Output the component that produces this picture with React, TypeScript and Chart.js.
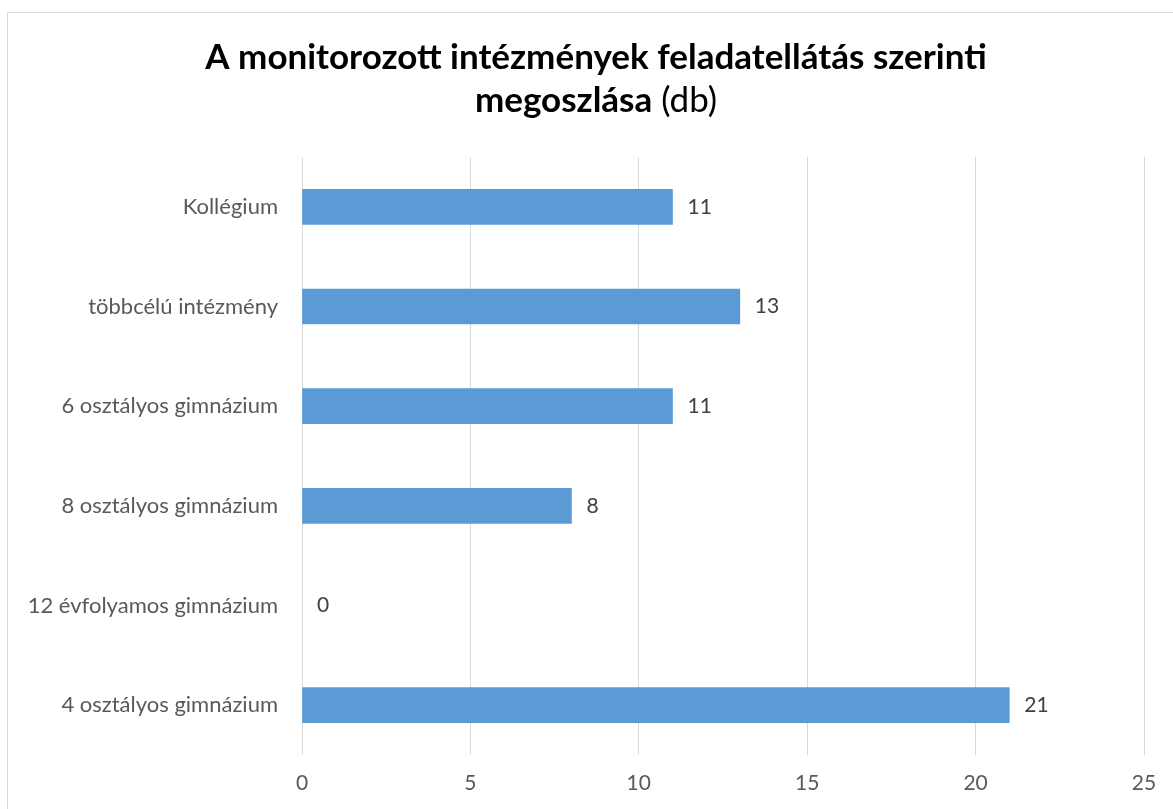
import React, { useEffect, useRef } from "react";
import { Chart, registerables } from "chart.js";

Chart.register(...registerables);

const categories = [
  "Kollégium",
  "többcélú intézmény",
  "6 osztályos gimnázium",
  "8 osztályos gimnázium",
  "12 évfolyamos gimnázium",
  "4 osztályos gimnázium",
];
const values = [11, 13, 11, 8, 0, 21];
const xMin = 0;
const xMax = 25;
const xStep = 5;
const titleLine1 = "A monitorozott intézmények feladatellátás szerinti";
const titleLine2Bold = "megoszlása";
const titleLine2Normal = " (db)";

const FONT = "Lato, 'Open Sans', sans-serif";
const BAR_COLOR = "#5B9BD5";

export default function App() {
  const ref = useRef<HTMLCanvasElement>(null);
  useEffect(() => {
    document.body.style.margin = "0";
    document.body.style.overflow = "hidden";
    const canvas = ref.current!;
    const borderPlugin = {
      id: "border",
      beforeDraw(chart: any) {
        const ctx = chart.ctx;
        ctx.save();
        ctx.fillStyle = "#ffffff";
        ctx.fillRect(0, 0, chart.width, chart.height);
        ctx.strokeStyle = "#d9d9d9";
        ctx.lineWidth = 1;
        ctx.strokeRect(7.5, 12.5, 1400, 1000);
        ctx.restore();
      },
    };
    const titlePlugin = {
      id: "mixedTitle",
      afterDraw(chart: any) {
        const ctx = chart.ctx;
        ctx.save();
        ctx.fillStyle = "#000000";
        ctx.textBaseline = "alphabetic";
        const cx = 596;
        ctx.font = `bold 35px ${FONT}`;
        ctx.textAlign = "center";
        ctx.fillText(titleLine1, cx, 69);
        const wb = ctx.measureText(titleLine2Bold).width;
        ctx.font = `35px ${FONT}`;
        const wn = ctx.measureText(titleLine2Normal).width;
        const start = cx - (wb + wn) / 2;
        ctx.textAlign = "left";
        ctx.font = `bold 35px ${FONT}`;
        ctx.fillText(titleLine2Bold, start, 112);
        ctx.font = `35px ${FONT}`;
        ctx.fillText(titleLine2Normal, start + wb, 112);
        ctx.restore();
      },
    };
    const labelPlugin = {
      id: "valueLabels",
      afterDatasetsDraw(chart: any) {
        const ctx = chart.ctx;
        const meta = chart.getDatasetMeta(0);
        ctx.save();
        ctx.fillStyle = "#404040";
        ctx.font = `21px ${FONT}`;
        ctx.textAlign = "left";
        ctx.textBaseline = "middle";
        meta.data.forEach((bar: any, i: number) => {
          ctx.fillText(String(values[i]), bar.x + 15, bar.y);
        });
        ctx.restore();
      },
    };
    const chart = new Chart(canvas, {
      type: "bar",
      data: {
        labels: categories,
        datasets: [
          {
            data: values,
            backgroundColor: values.map((v) => (v === 0 ? "rgba(0,0,0,0)" : BAR_COLOR)),
            borderWidth: 0,
            barThickness: 35,
          },
        ],
      },
      options: {
        indexAxis: "y",
        responsive: false,
        animation: false,
        layout: { padding: { top: 157, right: 29, bottom: 0, left: 0 } },
        plugins: {
          legend: { display: false },
          title: { display: false },
          tooltip: { enabled: false },
        },
        scales: {
          x: {
            min: xMin,
            max: xMax,
            ticks: {
              stepSize: xStep,
              color: "#595959",
              font: { family: FONT, size: 21 },
              padding: 16,
            },
            grid: { color: "#d9d9d9", lineWidth: 1, drawTicks: false },
            border: { display: false },
            afterFit(scale: any) {
              scale.height = 54;
            },
          },
          y: {
            ticks: {
              color: "#595959",
              font: { family: FONT, size: 22 },
              padding: 24,
            },
            grid: { display: false, drawTicks: false },
            border: { display: false },
            afterFit(scale: any) {
              scale.width = 302;
            },
          },
        },
      },
      plugins: [borderPlugin, titlePlugin, labelPlugin],
    });
    return () => chart.destroy();
  }, []);
  return (
    <div style={{ width: 1173, height: 809 }}>
      <canvas ref={ref} width={1173} height={809} />
    </div>
  );
}
